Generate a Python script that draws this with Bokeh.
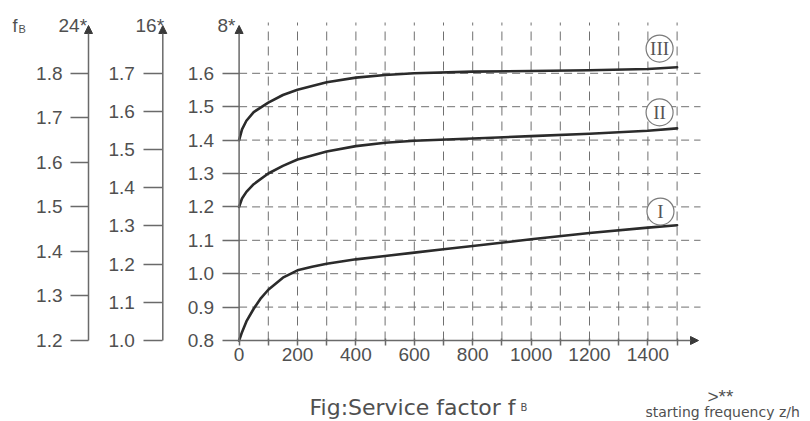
from bokeh.plotting import figure
from bokeh.models import Range1d, LinearAxis, FixedTicker, PrintfTickFormatter, Arrow, NormalHead, Label
from bokeh.core.properties import value
from bokeh.embed import file_html
from bokeh.resources import INLINE

# ---------------- data ----------------
freq_I = [0, 10, 25, 50, 75, 100, 150, 200, 250, 300, 400, 500, 600, 700, 800, 1000, 1200, 1400, 1500]
fB_I = [0.80, 0.825, 0.857, 0.895, 0.927, 0.952, 0.988, 1.010, 1.021, 1.030, 1.043, 1.053, 1.063,
        1.073, 1.083, 1.103, 1.122, 1.138, 1.145]

freq_II = [0, 10, 25, 50, 100, 150, 200, 300, 400, 500, 600, 800, 1000, 1200, 1400, 1500]
fB_II = [1.20, 1.225, 1.245, 1.268, 1.30, 1.323, 1.342, 1.366, 1.382, 1.392, 1.398, 1.405, 1.412,
         1.419, 1.428, 1.435]

freq_III = [0, 10, 25, 50, 100, 150, 200, 300, 400, 500, 600, 800, 1000, 1200, 1400, 1500]
fB_III = [1.40, 1.432, 1.458, 1.484, 1.512, 1.535, 1.551, 1.573, 1.587, 1.595, 1.600, 1.605, 1.607,
          1.609, 1.613, 1.618]

curve_labels = ["I", "II", "III"]
label_freq = [1443, 1440, 1440]
label_fB = [1.186, 1.483, 1.674]

ticks_8 = [0.8, 0.9, 1.0, 1.1, 1.2, 1.3, 1.4, 1.5, 1.6]
ticks_16 = [1.0, 1.1, 1.2, 1.3, 1.4, 1.5, 1.6, 1.7]
ticks_24 = [1.2, 1.3, 1.4, 1.5, 1.6, 1.7, 1.8]
axis_titles = ["24*", "16*", "8*"]

freq_ticks = [0, 200, 400, 600, 800, 1000, 1200, 1400]
freq_minor = [100, 300, 500, 700, 900, 1100, 1300, 1500]
freq_grid = [100, 200, 300, 400, 500, 600, 700, 800, 900, 1000, 1100, 1200, 1300, 1400, 1500]
fB_grid = [0.9, 1.0, 1.1, 1.2, 1.3, 1.4, 1.5, 1.6]

fB_symbol = "f"
fB_sub = "B"
title_text = "Fig:Service factor f"
title_sub = "B"
x_mark = ">**"
x_title = "starting frequency z/h"

# ---------------- layout (page pixels -> data) ----------------
W, H = 806, 421
MARGIN = 0
X0_PAGE, X_SCALE = 238.6, 0.292      # page x of z/h = 0, px per z/h
Y0_PAGE, Y_SCALE = 340.0, 334.0      # page y of fB = 0.8 (8* axis), px per unit


def xd(px):
    return (px - X0_PAGE) / X_SCALE


def yd(py):
    return ticks_8[0] + (Y0_PAGE - py) / Y_SCALE


y_lo, y_hi = yd(MARGIN + H), yd(MARGIN)

p = figure(width=W, height=H, output_backend="svg", toolbar_location=None,
           x_axis_location=None, y_axis_location=None, min_border=0,
           x_range=Range1d(xd(MARGIN), xd(MARGIN + W)), y_range=Range1d(y_lo, y_hi))
p.min_border_left = p.min_border_right = p.min_border_top = p.min_border_bottom = 0
p.outline_line_color = None
p.grid.visible = False
p.background_fill_color = "white"
p.border_fill_color = "white"


def ratio(t):
    return (t[-1] - t[0]) / (ticks_8[-1] - ticks_8[0])


k16, k24 = ratio(ticks_16), ratio(ticks_24)
p.extra_y_ranges = {
    "f16": Range1d(ticks_16[0] + (y_lo - ticks_8[0]) * k16, ticks_16[0] + (y_hi - ticks_8[0]) * k16),
    "f24": Range1d(ticks_24[0] + (y_lo - ticks_8[0]) * k24, ticks_24[0] + (y_hi - ticks_8[0]) * k24),
}

AX_COLOR = "#6a6a6a"
TXT_COLOR = "#505050"
TOP_PAGE = 25          # arrow tips
GRID_TOP_PAGE = 22
GRID_RIGHT_PAGE = 700
XARROW_PAGE = 698

# ---------------- grid (dashed) ----------------
p.segment(x0=freq_grid, y0=[ticks_8[0]] * len(freq_grid), x1=freq_grid,
          y1=[yd(GRID_TOP_PAGE)] * len(freq_grid),
          line_color="#707070", line_width=1, line_dash="9 6")
p.segment(x0=[0] * len(fB_grid), y0=fB_grid, x1=[xd(GRID_RIGHT_PAGE)] * len(fB_grid), y1=fB_grid,
          line_color="#707070", line_width=1, line_dash="8 5")

# ---------------- curves ----------------
for fx, fy in ((freq_I, fB_I), (freq_II, fB_II), (freq_III, fB_III)):
    p.line(fx, fy, line_color="#2b2b2b", line_width=2.6, line_join="round", line_cap="round")

# ---------------- curve labels ----------------
p.scatter(label_freq, label_fB, marker="circle", size=27, fill_color="white",
          line_color="#7a7a7a", line_width=1.2)
p.text(label_freq, label_fB, text=curve_labels, text_font=value("Liberation Serif"),
       text_font_size="19px", text_align="center", text_baseline="middle", text_color="#555555")


# ---------------- axes ----------------
def y_axis(ticks, rng, page_x, tick_out, standoff):
    ax = LinearAxis(ticker=FixedTicker(ticks=ticks), formatter=PrintfTickFormatter(format="%.1f"),
                    fixed_location=xd(page_x))
    if rng:
        ax.y_range_name = rng
    ax.axis_line_color = None
    ax.major_tick_in = 0
    ax.major_tick_out = tick_out
    ax.major_tick_line_color = AX_COLOR
    ax.major_tick_line_width = 1.5
    ax.minor_tick_line_color = None
    ax.major_label_text_font = "Liberation Sans"
    ax.major_label_text_font_size = "19px"
    ax.major_label_text_color = TXT_COLOR
    ax.major_label_standoff = standoff
    p.add_layout(ax, "left")
    p.add_layout(Arrow(end=NormalHead(size=8, fill_color="#3a3a3a", line_color="#3a3a3a"),
                       x_start=xd(page_x), y_start=ticks_8[0], x_end=xd(page_x), y_end=yd(TOP_PAGE),
                       line_color=AX_COLOR, line_width=1.5))


y_axis(ticks_24, "f24", 88, 18, 8)
y_axis(ticks_16, "f16", 162.3, 19, 9)
y_axis(ticks_8, None, X0_PAGE, 17, 8)

xax = LinearAxis(ticker=FixedTicker(ticks=freq_ticks, minor_ticks=freq_minor), fixed_location=ticks_8[0])
xax.axis_line_color = None
xax.major_tick_in = 2
xax.major_tick_out = 5
xax.minor_tick_in = 2
xax.minor_tick_out = 5
xax.major_tick_line_color = AX_COLOR
xax.minor_tick_line_color = AX_COLOR
xax.major_tick_line_width = 1.5
xax.minor_tick_line_width = 1.5
xax.major_label_text_font = "Liberation Sans"
xax.major_label_text_font_size = "19px"
xax.major_label_text_color = TXT_COLOR
xax.major_label_standoff = 2
p.add_layout(xax, "below")
p.add_layout(Arrow(end=NormalHead(size=8, fill_color="#3a3a3a", line_color="#3a3a3a"),
                   x_start=0, y_start=ticks_8[0], x_end=xd(XARROW_PAGE), y_end=ticks_8[0],
                   line_color=AX_COLOR, line_width=1.5))


# ---------------- texts ----------------
def put(txt, px, py, size, font="Liberation Sans", color=TXT_COLOR):
    p.add_layout(Label(x=xd(px), y=yd(py), text=txt, text_font=font, text_font_size=size,
                       text_align="left", text_baseline="alphabetic", text_color=color))


put(axis_titles[0], 58, 25, "19px")
put(axis_titles[1], 135, 25, "19px")
put(axis_titles[2], 217, 25, "19px")
put(fB_symbol, 12, 25, "18px")
put(fB_sub, 18, 28, "11px")

put(title_text, 309, 407, "22px", font="DejaVu Sans")
put(title_sub, 520, 407, "10px", font="DejaVu Sans")
put(x_mark, 707, 396, "19px")
put(x_title, 645, 411, "14px", font="DejaVu Sans")

open("out.html", "w").write(file_html(p, INLINE))
